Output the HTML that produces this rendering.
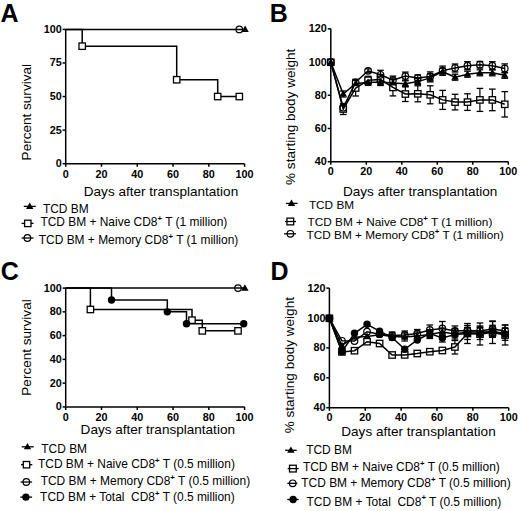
<!DOCTYPE html>
<html><head><meta charset="utf-8"><title>Figure</title>
<style>
html,body{margin:0;padding:0;background:#fff;width:520px;height:511px;overflow:hidden}
svg{display:block}
text{font-family:"Liberation Sans", sans-serif;fill:#000;white-space:pre}
</style></head><body>
<svg width="520" height="511" viewBox="0 0 520 511">
<text x="0.60" y="21.60" font-size="25" font-weight="bold" text-anchor="start" >A</text>
<line x1="65.70" y1="29.40" x2="65.70" y2="163.70" stroke="#000" stroke-width="1.5"/>
<line x1="65.70" y1="163.70" x2="244.60" y2="163.70" stroke="#000" stroke-width="1.5"/>
<line x1="62.60" y1="29.40" x2="65.70" y2="29.40" stroke="#000" stroke-width="1.5"/>
<text x="61.70" y="32.90" font-size="10.8" font-weight="bold" text-anchor="end" >100</text>
<line x1="62.60" y1="62.98" x2="65.70" y2="62.98" stroke="#000" stroke-width="1.5"/>
<text x="61.70" y="66.48" font-size="10.8" font-weight="bold" text-anchor="end" >75</text>
<line x1="62.60" y1="96.55" x2="65.70" y2="96.55" stroke="#000" stroke-width="1.5"/>
<text x="61.70" y="100.05" font-size="10.8" font-weight="bold" text-anchor="end" >50</text>
<line x1="62.60" y1="130.12" x2="65.70" y2="130.12" stroke="#000" stroke-width="1.5"/>
<text x="61.70" y="133.62" font-size="10.8" font-weight="bold" text-anchor="end" >25</text>
<line x1="62.60" y1="163.70" x2="65.70" y2="163.70" stroke="#000" stroke-width="1.5"/>
<text x="61.70" y="167.20" font-size="10.8" font-weight="bold" text-anchor="end" >0</text>
<line x1="65.70" y1="163.70" x2="65.70" y2="166.80" stroke="#000" stroke-width="1.5"/>
<text x="65.70" y="177.60" font-size="10.8" font-weight="bold" text-anchor="middle" >0</text>
<line x1="101.48" y1="163.70" x2="101.48" y2="166.80" stroke="#000" stroke-width="1.5"/>
<text x="101.48" y="177.60" font-size="10.8" font-weight="bold" text-anchor="middle" >20</text>
<line x1="137.26" y1="163.70" x2="137.26" y2="166.80" stroke="#000" stroke-width="1.5"/>
<text x="137.26" y="177.60" font-size="10.8" font-weight="bold" text-anchor="middle" >40</text>
<line x1="173.04" y1="163.70" x2="173.04" y2="166.80" stroke="#000" stroke-width="1.5"/>
<text x="173.04" y="177.60" font-size="10.8" font-weight="bold" text-anchor="middle" >60</text>
<line x1="208.82" y1="163.70" x2="208.82" y2="166.80" stroke="#000" stroke-width="1.5"/>
<text x="208.82" y="177.60" font-size="10.8" font-weight="bold" text-anchor="middle" >80</text>
<line x1="244.60" y1="163.70" x2="244.60" y2="166.80" stroke="#000" stroke-width="1.5"/>
<text x="244.60" y="177.60" font-size="10.8" font-weight="bold" text-anchor="middle" >100</text>
<text x="83.80" y="196.40" font-size="13.55" text-anchor="start" >Days after transplantation</text>
<text x="0" y="0" font-size="13.55" text-anchor="middle" transform="translate(30.60,112.20) rotate(-90)">Percent survival</text>
<line x1="65.70" y1="29.40" x2="245.60" y2="29.40" stroke="#000" stroke-width="1.5"/>
<circle cx="239.30" cy="29.40" r="3.30" fill="none" stroke="#000" stroke-width="1.2"/>
<polygon points="245.10,25.56 248.80,31.96 241.40,31.96" fill="#000"/>
<polyline points="65.70,29.40 82.20,29.40 82.20,46.19 176.70,46.19 176.70,79.76 217.70,79.76 217.70,96.55 239.30,96.55" fill="none" stroke="#000" stroke-width="1.5" stroke-linejoin="miter"/>
<rect x="79.00" y="42.99" width="6.40" height="6.40" fill="#fff" stroke="#000" stroke-width="1.3"/>
<rect x="173.50" y="76.56" width="6.40" height="6.40" fill="#fff" stroke="#000" stroke-width="1.3"/>
<rect x="214.50" y="93.35" width="6.40" height="6.40" fill="#fff" stroke="#000" stroke-width="1.3"/>
<rect x="236.10" y="93.35" width="6.40" height="6.40" fill="#fff" stroke="#000" stroke-width="1.3"/>
<line x1="23.80" y1="206.40" x2="35.80" y2="206.40" stroke="#000" stroke-width="1.3"/>
<polygon points="29.70,202.56 33.40,208.96 26.00,208.96" fill="#000"/>
<text x="42.90" y="213.00" font-size="11.95" text-anchor="start" >TCD BM</text>
<line x1="21.60" y1="223.40" x2="33.50" y2="223.40" stroke="#000" stroke-width="1.3"/>
<rect x="24.60" y="220.20" width="6.40" height="6.40" fill="#fff" stroke="#000" stroke-width="1.3"/>
<text x="40.40" y="225.90" font-size="11.95" text-anchor="start" >TCD BM + Naive CD8<tspan dy="-5.2" font-size="7.8" font-weight="bold">+</tspan><tspan dy="5.2"> </tspan>T (1 million)</text>
<line x1="21.60" y1="238.00" x2="33.50" y2="238.00" stroke="#000" stroke-width="1.3"/>
<circle cx="27.40" cy="238.00" r="3.30" fill="none" stroke="#000" stroke-width="1.2"/>
<text x="38.80" y="244.10" font-size="11.95" text-anchor="start" >TCD BM + Memory CD8<tspan dy="-5.2" font-size="7.8" font-weight="bold">+</tspan><tspan dy="5.2"> </tspan>T (1 million)</text>
<text x="0.80" y="280.20" font-size="25" font-weight="bold" text-anchor="start" >C</text>
<line x1="65.70" y1="288.10" x2="65.70" y2="406.90" stroke="#000" stroke-width="1.5"/>
<line x1="65.70" y1="406.90" x2="244.60" y2="406.90" stroke="#000" stroke-width="1.5"/>
<line x1="62.60" y1="288.10" x2="65.70" y2="288.10" stroke="#000" stroke-width="1.5"/>
<text x="61.70" y="291.60" font-size="10.8" font-weight="bold" text-anchor="end" >100</text>
<line x1="62.60" y1="311.86" x2="65.70" y2="311.86" stroke="#000" stroke-width="1.5"/>
<text x="61.70" y="315.36" font-size="10.8" font-weight="bold" text-anchor="end" >80</text>
<line x1="62.60" y1="335.62" x2="65.70" y2="335.62" stroke="#000" stroke-width="1.5"/>
<text x="61.70" y="339.12" font-size="10.8" font-weight="bold" text-anchor="end" >60</text>
<line x1="62.60" y1="359.38" x2="65.70" y2="359.38" stroke="#000" stroke-width="1.5"/>
<text x="61.70" y="362.88" font-size="10.8" font-weight="bold" text-anchor="end" >40</text>
<line x1="62.60" y1="383.14" x2="65.70" y2="383.14" stroke="#000" stroke-width="1.5"/>
<text x="61.70" y="386.64" font-size="10.8" font-weight="bold" text-anchor="end" >20</text>
<line x1="62.60" y1="406.90" x2="65.70" y2="406.90" stroke="#000" stroke-width="1.5"/>
<text x="61.70" y="410.40" font-size="10.8" font-weight="bold" text-anchor="end" >0</text>
<line x1="65.70" y1="406.90" x2="65.70" y2="410.00" stroke="#000" stroke-width="1.5"/>
<text x="65.70" y="420.60" font-size="10.8" font-weight="bold" text-anchor="middle" >0</text>
<line x1="101.48" y1="406.90" x2="101.48" y2="410.00" stroke="#000" stroke-width="1.5"/>
<text x="101.48" y="420.60" font-size="10.8" font-weight="bold" text-anchor="middle" >20</text>
<line x1="137.26" y1="406.90" x2="137.26" y2="410.00" stroke="#000" stroke-width="1.5"/>
<text x="137.26" y="420.60" font-size="10.8" font-weight="bold" text-anchor="middle" >40</text>
<line x1="173.04" y1="406.90" x2="173.04" y2="410.00" stroke="#000" stroke-width="1.5"/>
<text x="173.04" y="420.60" font-size="10.8" font-weight="bold" text-anchor="middle" >60</text>
<line x1="208.82" y1="406.90" x2="208.82" y2="410.00" stroke="#000" stroke-width="1.5"/>
<text x="208.82" y="420.60" font-size="10.8" font-weight="bold" text-anchor="middle" >80</text>
<line x1="244.60" y1="406.90" x2="244.60" y2="410.00" stroke="#000" stroke-width="1.5"/>
<text x="244.60" y="420.60" font-size="10.8" font-weight="bold" text-anchor="middle" >100</text>
<text x="80.60" y="434.20" font-size="13.55" text-anchor="start" >Days after transplantation</text>
<text x="0" y="0" font-size="13.55" text-anchor="middle" transform="translate(30.60,347.50) rotate(-90)">Percent survival</text>
<line x1="65.70" y1="288.10" x2="245.60" y2="288.10" stroke="#000" stroke-width="1.5"/>
<circle cx="238.00" cy="288.10" r="3.30" fill="none" stroke="#000" stroke-width="1.2"/>
<polygon points="244.90,284.26 248.60,290.66 241.20,290.66" fill="#000"/>
<polyline points="65.70,288.10 90.40,288.10 90.40,309.48 192.00,309.48 192.00,320.18 202.30,320.18 202.30,330.87 238.00,330.87" fill="none" stroke="#000" stroke-width="1.5" stroke-linejoin="miter"/>
<polyline points="65.70,288.10 111.50,288.10 111.50,299.98 167.30,299.98 167.30,311.86 186.50,311.86 186.50,323.74 243.70,323.74" fill="none" stroke="#000" stroke-width="1.5" stroke-linejoin="miter"/>
<rect x="87.20" y="306.28" width="6.40" height="6.40" fill="#fff" stroke="#000" stroke-width="1.3"/>
<rect x="188.80" y="316.98" width="6.40" height="6.40" fill="#fff" stroke="#000" stroke-width="1.3"/>
<rect x="199.10" y="327.67" width="6.40" height="6.40" fill="#fff" stroke="#000" stroke-width="1.3"/>
<rect x="234.80" y="327.67" width="6.40" height="6.40" fill="#fff" stroke="#000" stroke-width="1.3"/>
<circle cx="111.50" cy="299.98" r="3.70" fill="#000"/>
<circle cx="167.30" cy="311.86" r="3.70" fill="#000"/>
<circle cx="186.50" cy="323.74" r="3.70" fill="#000"/>
<circle cx="243.70" cy="323.74" r="3.70" fill="#000"/>
<line x1="21.70" y1="446.80" x2="33.70" y2="446.80" stroke="#000" stroke-width="1.3"/>
<polygon points="27.50,442.96 31.20,449.36 23.80,449.36" fill="#000"/>
<text x="41.30" y="452.50" font-size="11.95" text-anchor="start" >TCD BM</text>
<line x1="21.00" y1="464.70" x2="32.30" y2="464.70" stroke="#000" stroke-width="1.3"/>
<rect x="23.30" y="461.50" width="6.40" height="6.40" fill="#fff" stroke="#000" stroke-width="1.3"/>
<text x="38.00" y="468.00" font-size="11.95" text-anchor="start" >TCD BM + Naive CD8<tspan dy="-5.2" font-size="7.8" font-weight="bold">+</tspan><tspan dy="5.2"> </tspan>T (0.5 million)</text>
<line x1="20.60" y1="482.00" x2="32.10" y2="482.00" stroke="#000" stroke-width="1.3"/>
<circle cx="26.30" cy="482.00" r="3.30" fill="none" stroke="#000" stroke-width="1.2"/>
<text x="40.70" y="484.80" font-size="11.95" text-anchor="start" >TCD BM + Memory CD8<tspan dy="-5.2" font-size="7.8" font-weight="bold">+</tspan><tspan dy="5.2"> </tspan>T (0.5 million)</text>
<line x1="20.30" y1="497.10" x2="32.10" y2="497.10" stroke="#000" stroke-width="1.3"/>
<circle cx="25.90" cy="497.10" r="3.70" fill="#000"/>
<text x="40.10" y="501.30" font-size="11.95" text-anchor="start" >TCD BM + Total  CD8<tspan dy="-5.2" font-size="7.8" font-weight="bold">+</tspan><tspan dy="5.2"> </tspan>T (0.5 million)</text>
<text x="269.80" y="21.60" font-size="25" font-weight="bold" text-anchor="start" >B</text>
<line x1="330.80" y1="28.80" x2="330.80" y2="161.70" stroke="#000" stroke-width="1.5"/>
<line x1="330.80" y1="161.70" x2="508.30" y2="161.70" stroke="#000" stroke-width="1.5"/>
<line x1="327.70" y1="28.80" x2="330.80" y2="28.80" stroke="#000" stroke-width="1.5"/>
<text x="326.80" y="32.30" font-size="10.8" font-weight="bold" text-anchor="end" >120</text>
<line x1="327.70" y1="62.03" x2="330.80" y2="62.03" stroke="#000" stroke-width="1.5"/>
<text x="326.80" y="65.53" font-size="10.8" font-weight="bold" text-anchor="end" >100</text>
<line x1="327.70" y1="95.25" x2="330.80" y2="95.25" stroke="#000" stroke-width="1.5"/>
<text x="326.80" y="98.75" font-size="10.8" font-weight="bold" text-anchor="end" >80</text>
<line x1="327.70" y1="128.47" x2="330.80" y2="128.47" stroke="#000" stroke-width="1.5"/>
<text x="326.80" y="131.97" font-size="10.8" font-weight="bold" text-anchor="end" >60</text>
<line x1="327.70" y1="161.70" x2="330.80" y2="161.70" stroke="#000" stroke-width="1.5"/>
<text x="326.80" y="165.20" font-size="10.8" font-weight="bold" text-anchor="end" >40</text>
<line x1="330.80" y1="161.70" x2="330.80" y2="164.80" stroke="#000" stroke-width="1.5"/>
<text x="330.80" y="175.00" font-size="10.8" font-weight="bold" text-anchor="middle" >0</text>
<line x1="366.30" y1="161.70" x2="366.30" y2="164.80" stroke="#000" stroke-width="1.5"/>
<text x="366.30" y="175.00" font-size="10.8" font-weight="bold" text-anchor="middle" >20</text>
<line x1="401.80" y1="161.70" x2="401.80" y2="164.80" stroke="#000" stroke-width="1.5"/>
<text x="401.80" y="175.00" font-size="10.8" font-weight="bold" text-anchor="middle" >40</text>
<line x1="437.30" y1="161.70" x2="437.30" y2="164.80" stroke="#000" stroke-width="1.5"/>
<text x="437.30" y="175.00" font-size="10.8" font-weight="bold" text-anchor="middle" >60</text>
<line x1="472.80" y1="161.70" x2="472.80" y2="164.80" stroke="#000" stroke-width="1.5"/>
<text x="472.80" y="175.00" font-size="10.8" font-weight="bold" text-anchor="middle" >80</text>
<line x1="508.30" y1="161.70" x2="508.30" y2="164.80" stroke="#000" stroke-width="1.5"/>
<text x="508.30" y="175.00" font-size="10.8" font-weight="bold" text-anchor="middle" >100</text>
<text x="343.00" y="195.80" font-size="13.55" text-anchor="start" >Days after transplantation</text>
<text x="0" y="0" font-size="13.55" text-anchor="middle" transform="translate(294.70,116.80) rotate(-90)">% starting body weight</text>
<line x1="343.23" y1="103.50" x2="343.23" y2="114.50" stroke="#000" stroke-width="1.2"/>
<line x1="339.93" y1="103.50" x2="346.53" y2="103.50" stroke="#000" stroke-width="1.3"/>
<line x1="339.93" y1="114.50" x2="346.53" y2="114.50" stroke="#000" stroke-width="1.3"/>
<line x1="355.65" y1="80.00" x2="355.65" y2="96.00" stroke="#000" stroke-width="1.2"/>
<line x1="352.35" y1="80.00" x2="358.95" y2="80.00" stroke="#000" stroke-width="1.3"/>
<line x1="352.35" y1="96.00" x2="358.95" y2="96.00" stroke="#000" stroke-width="1.3"/>
<line x1="368.07" y1="76.30" x2="368.07" y2="84.30" stroke="#000" stroke-width="1.2"/>
<line x1="364.77" y1="76.30" x2="371.38" y2="76.30" stroke="#000" stroke-width="1.3"/>
<line x1="364.77" y1="84.30" x2="371.38" y2="84.30" stroke="#000" stroke-width="1.3"/>
<line x1="380.50" y1="74.50" x2="380.50" y2="84.50" stroke="#000" stroke-width="1.2"/>
<line x1="377.20" y1="74.50" x2="383.80" y2="74.50" stroke="#000" stroke-width="1.3"/>
<line x1="377.20" y1="84.50" x2="383.80" y2="84.50" stroke="#000" stroke-width="1.3"/>
<line x1="392.93" y1="78.90" x2="392.93" y2="95.90" stroke="#000" stroke-width="1.2"/>
<line x1="389.62" y1="78.90" x2="396.23" y2="78.90" stroke="#000" stroke-width="1.3"/>
<line x1="389.62" y1="95.90" x2="396.23" y2="95.90" stroke="#000" stroke-width="1.3"/>
<line x1="405.35" y1="86.50" x2="405.35" y2="101.50" stroke="#000" stroke-width="1.2"/>
<line x1="402.05" y1="86.50" x2="408.65" y2="86.50" stroke="#000" stroke-width="1.3"/>
<line x1="402.05" y1="101.50" x2="408.65" y2="101.50" stroke="#000" stroke-width="1.3"/>
<line x1="417.77" y1="85.80" x2="417.77" y2="101.80" stroke="#000" stroke-width="1.2"/>
<line x1="414.47" y1="85.80" x2="421.07" y2="85.80" stroke="#000" stroke-width="1.3"/>
<line x1="414.47" y1="101.80" x2="421.07" y2="101.80" stroke="#000" stroke-width="1.3"/>
<line x1="430.20" y1="85.80" x2="430.20" y2="103.80" stroke="#000" stroke-width="1.2"/>
<line x1="426.90" y1="85.80" x2="433.50" y2="85.80" stroke="#000" stroke-width="1.3"/>
<line x1="426.90" y1="103.80" x2="433.50" y2="103.80" stroke="#000" stroke-width="1.3"/>
<line x1="442.62" y1="90.40" x2="442.62" y2="109.40" stroke="#000" stroke-width="1.2"/>
<line x1="439.32" y1="90.40" x2="445.93" y2="90.40" stroke="#000" stroke-width="1.3"/>
<line x1="439.32" y1="109.40" x2="445.93" y2="109.40" stroke="#000" stroke-width="1.3"/>
<line x1="455.05" y1="94.30" x2="455.05" y2="109.90" stroke="#000" stroke-width="1.2"/>
<line x1="451.75" y1="94.30" x2="458.35" y2="94.30" stroke="#000" stroke-width="1.3"/>
<line x1="451.75" y1="109.90" x2="458.35" y2="109.90" stroke="#000" stroke-width="1.3"/>
<line x1="467.48" y1="93.80" x2="467.48" y2="110.40" stroke="#000" stroke-width="1.2"/>
<line x1="464.18" y1="93.80" x2="470.78" y2="93.80" stroke="#000" stroke-width="1.3"/>
<line x1="464.18" y1="110.40" x2="470.78" y2="110.40" stroke="#000" stroke-width="1.3"/>
<line x1="479.90" y1="88.40" x2="479.90" y2="111.40" stroke="#000" stroke-width="1.2"/>
<line x1="476.60" y1="88.40" x2="483.20" y2="88.40" stroke="#000" stroke-width="1.3"/>
<line x1="476.60" y1="111.40" x2="483.20" y2="111.40" stroke="#000" stroke-width="1.3"/>
<line x1="492.33" y1="89.10" x2="492.33" y2="110.70" stroke="#000" stroke-width="1.2"/>
<line x1="489.03" y1="89.10" x2="495.63" y2="89.10" stroke="#000" stroke-width="1.3"/>
<line x1="489.03" y1="110.70" x2="495.63" y2="110.70" stroke="#000" stroke-width="1.3"/>
<line x1="504.75" y1="91.60" x2="504.75" y2="117.00" stroke="#000" stroke-width="1.2"/>
<line x1="501.45" y1="91.60" x2="508.05" y2="91.60" stroke="#000" stroke-width="1.3"/>
<line x1="501.45" y1="117.00" x2="508.05" y2="117.00" stroke="#000" stroke-width="1.3"/>
<line x1="343.23" y1="104.70" x2="343.23" y2="110.70" stroke="#000" stroke-width="1.2"/>
<line x1="339.93" y1="104.70" x2="346.53" y2="104.70" stroke="#000" stroke-width="1.3"/>
<line x1="339.93" y1="110.70" x2="346.53" y2="110.70" stroke="#000" stroke-width="1.3"/>
<line x1="355.65" y1="79.30" x2="355.65" y2="85.30" stroke="#000" stroke-width="1.2"/>
<line x1="352.35" y1="79.30" x2="358.95" y2="79.30" stroke="#000" stroke-width="1.3"/>
<line x1="352.35" y1="85.30" x2="358.95" y2="85.30" stroke="#000" stroke-width="1.3"/>
<line x1="368.07" y1="68.80" x2="368.07" y2="72.80" stroke="#000" stroke-width="1.2"/>
<line x1="364.77" y1="68.80" x2="371.38" y2="68.80" stroke="#000" stroke-width="1.3"/>
<line x1="364.77" y1="72.80" x2="371.38" y2="72.80" stroke="#000" stroke-width="1.3"/>
<line x1="380.50" y1="70.30" x2="380.50" y2="79.30" stroke="#000" stroke-width="1.2"/>
<line x1="377.20" y1="70.30" x2="383.80" y2="70.30" stroke="#000" stroke-width="1.3"/>
<line x1="377.20" y1="79.30" x2="383.80" y2="79.30" stroke="#000" stroke-width="1.3"/>
<line x1="392.93" y1="76.10" x2="392.93" y2="84.10" stroke="#000" stroke-width="1.2"/>
<line x1="389.62" y1="76.10" x2="396.23" y2="76.10" stroke="#000" stroke-width="1.3"/>
<line x1="389.62" y1="84.10" x2="396.23" y2="84.10" stroke="#000" stroke-width="1.3"/>
<line x1="405.35" y1="72.10" x2="405.35" y2="80.10" stroke="#000" stroke-width="1.2"/>
<line x1="402.05" y1="72.10" x2="408.65" y2="72.10" stroke="#000" stroke-width="1.3"/>
<line x1="402.05" y1="80.10" x2="408.65" y2="80.10" stroke="#000" stroke-width="1.3"/>
<line x1="417.77" y1="74.90" x2="417.77" y2="80.90" stroke="#000" stroke-width="1.2"/>
<line x1="414.47" y1="74.90" x2="421.07" y2="74.90" stroke="#000" stroke-width="1.3"/>
<line x1="414.47" y1="80.90" x2="421.07" y2="80.90" stroke="#000" stroke-width="1.3"/>
<line x1="430.20" y1="71.90" x2="430.20" y2="80.90" stroke="#000" stroke-width="1.2"/>
<line x1="426.90" y1="71.90" x2="433.50" y2="71.90" stroke="#000" stroke-width="1.3"/>
<line x1="426.90" y1="80.90" x2="433.50" y2="80.90" stroke="#000" stroke-width="1.3"/>
<line x1="442.62" y1="66.10" x2="442.62" y2="75.10" stroke="#000" stroke-width="1.2"/>
<line x1="439.32" y1="66.10" x2="445.93" y2="66.10" stroke="#000" stroke-width="1.3"/>
<line x1="439.32" y1="75.10" x2="445.93" y2="75.10" stroke="#000" stroke-width="1.3"/>
<line x1="455.05" y1="64.00" x2="455.05" y2="72.00" stroke="#000" stroke-width="1.2"/>
<line x1="451.75" y1="64.00" x2="458.35" y2="64.00" stroke="#000" stroke-width="1.3"/>
<line x1="451.75" y1="72.00" x2="458.35" y2="72.00" stroke="#000" stroke-width="1.3"/>
<line x1="467.48" y1="61.70" x2="467.48" y2="69.70" stroke="#000" stroke-width="1.2"/>
<line x1="464.18" y1="61.70" x2="470.78" y2="61.70" stroke="#000" stroke-width="1.3"/>
<line x1="464.18" y1="69.70" x2="470.78" y2="69.70" stroke="#000" stroke-width="1.3"/>
<line x1="479.90" y1="61.40" x2="479.90" y2="68.00" stroke="#000" stroke-width="1.2"/>
<line x1="476.60" y1="61.40" x2="483.20" y2="61.40" stroke="#000" stroke-width="1.3"/>
<line x1="476.60" y1="68.00" x2="483.20" y2="68.00" stroke="#000" stroke-width="1.3"/>
<line x1="492.33" y1="61.70" x2="492.33" y2="69.70" stroke="#000" stroke-width="1.2"/>
<line x1="489.03" y1="61.70" x2="495.63" y2="61.70" stroke="#000" stroke-width="1.3"/>
<line x1="489.03" y1="69.70" x2="495.63" y2="69.70" stroke="#000" stroke-width="1.3"/>
<line x1="504.75" y1="63.90" x2="504.75" y2="72.90" stroke="#000" stroke-width="1.2"/>
<line x1="501.45" y1="63.90" x2="508.05" y2="63.90" stroke="#000" stroke-width="1.3"/>
<line x1="501.45" y1="72.90" x2="508.05" y2="72.90" stroke="#000" stroke-width="1.3"/>
<line x1="343.23" y1="91.00" x2="343.23" y2="97.00" stroke="#000" stroke-width="1.2"/>
<line x1="339.93" y1="91.00" x2="346.53" y2="91.00" stroke="#000" stroke-width="1.3"/>
<line x1="339.93" y1="97.00" x2="346.53" y2="97.00" stroke="#000" stroke-width="1.3"/>
<line x1="355.65" y1="80.50" x2="355.65" y2="86.50" stroke="#000" stroke-width="1.2"/>
<line x1="352.35" y1="80.50" x2="358.95" y2="80.50" stroke="#000" stroke-width="1.3"/>
<line x1="352.35" y1="86.50" x2="358.95" y2="86.50" stroke="#000" stroke-width="1.3"/>
<line x1="368.07" y1="79.40" x2="368.07" y2="85.40" stroke="#000" stroke-width="1.2"/>
<line x1="364.77" y1="79.40" x2="371.38" y2="79.40" stroke="#000" stroke-width="1.3"/>
<line x1="364.77" y1="85.40" x2="371.38" y2="85.40" stroke="#000" stroke-width="1.3"/>
<line x1="380.50" y1="78.50" x2="380.50" y2="85.50" stroke="#000" stroke-width="1.2"/>
<line x1="377.20" y1="78.50" x2="383.80" y2="78.50" stroke="#000" stroke-width="1.3"/>
<line x1="377.20" y1="85.50" x2="383.80" y2="85.50" stroke="#000" stroke-width="1.3"/>
<line x1="392.93" y1="79.50" x2="392.93" y2="86.50" stroke="#000" stroke-width="1.2"/>
<line x1="389.62" y1="79.50" x2="396.23" y2="79.50" stroke="#000" stroke-width="1.3"/>
<line x1="389.62" y1="86.50" x2="396.23" y2="86.50" stroke="#000" stroke-width="1.3"/>
<line x1="405.35" y1="80.80" x2="405.35" y2="86.80" stroke="#000" stroke-width="1.2"/>
<line x1="402.05" y1="80.80" x2="408.65" y2="80.80" stroke="#000" stroke-width="1.3"/>
<line x1="402.05" y1="86.80" x2="408.65" y2="86.80" stroke="#000" stroke-width="1.3"/>
<line x1="417.77" y1="78.60" x2="417.77" y2="84.60" stroke="#000" stroke-width="1.2"/>
<line x1="414.47" y1="78.60" x2="421.07" y2="78.60" stroke="#000" stroke-width="1.3"/>
<line x1="414.47" y1="84.60" x2="421.07" y2="84.60" stroke="#000" stroke-width="1.3"/>
<line x1="430.20" y1="73.90" x2="430.20" y2="81.90" stroke="#000" stroke-width="1.2"/>
<line x1="426.90" y1="73.90" x2="433.50" y2="73.90" stroke="#000" stroke-width="1.3"/>
<line x1="426.90" y1="81.90" x2="433.50" y2="81.90" stroke="#000" stroke-width="1.3"/>
<line x1="442.62" y1="68.20" x2="442.62" y2="75.20" stroke="#000" stroke-width="1.2"/>
<line x1="439.32" y1="68.20" x2="445.93" y2="68.20" stroke="#000" stroke-width="1.3"/>
<line x1="439.32" y1="75.20" x2="445.93" y2="75.20" stroke="#000" stroke-width="1.3"/>
<line x1="455.05" y1="74.20" x2="455.05" y2="80.20" stroke="#000" stroke-width="1.2"/>
<line x1="451.75" y1="74.20" x2="458.35" y2="74.20" stroke="#000" stroke-width="1.3"/>
<line x1="451.75" y1="80.20" x2="458.35" y2="80.20" stroke="#000" stroke-width="1.3"/>
<line x1="467.48" y1="71.20" x2="467.48" y2="77.20" stroke="#000" stroke-width="1.2"/>
<line x1="464.18" y1="71.20" x2="470.78" y2="71.20" stroke="#000" stroke-width="1.3"/>
<line x1="464.18" y1="77.20" x2="470.78" y2="77.20" stroke="#000" stroke-width="1.3"/>
<line x1="479.90" y1="69.80" x2="479.90" y2="75.80" stroke="#000" stroke-width="1.2"/>
<line x1="476.60" y1="69.80" x2="483.20" y2="69.80" stroke="#000" stroke-width="1.3"/>
<line x1="476.60" y1="75.80" x2="483.20" y2="75.80" stroke="#000" stroke-width="1.3"/>
<line x1="492.33" y1="69.80" x2="492.33" y2="75.80" stroke="#000" stroke-width="1.2"/>
<line x1="489.03" y1="69.80" x2="495.63" y2="69.80" stroke="#000" stroke-width="1.3"/>
<line x1="489.03" y1="75.80" x2="495.63" y2="75.80" stroke="#000" stroke-width="1.3"/>
<line x1="504.75" y1="72.30" x2="504.75" y2="78.30" stroke="#000" stroke-width="1.2"/>
<line x1="501.45" y1="72.30" x2="508.05" y2="72.30" stroke="#000" stroke-width="1.3"/>
<line x1="501.45" y1="78.30" x2="508.05" y2="78.30" stroke="#000" stroke-width="1.3"/>
<rect x="327.60" y="59.00" width="6.40" height="6.40" fill="#fff"/>
<rect x="340.03" y="105.80" width="6.40" height="6.40" fill="#fff"/>
<rect x="352.45" y="84.80" width="6.40" height="6.40" fill="#fff"/>
<rect x="364.88" y="77.10" width="6.40" height="6.40" fill="#fff"/>
<rect x="377.30" y="76.30" width="6.40" height="6.40" fill="#fff"/>
<rect x="389.73" y="84.20" width="6.40" height="6.40" fill="#fff"/>
<rect x="402.15" y="90.80" width="6.40" height="6.40" fill="#fff"/>
<rect x="414.57" y="90.60" width="6.40" height="6.40" fill="#fff"/>
<rect x="427.00" y="91.60" width="6.40" height="6.40" fill="#fff"/>
<rect x="439.43" y="96.70" width="6.40" height="6.40" fill="#fff"/>
<rect x="451.85" y="98.90" width="6.40" height="6.40" fill="#fff"/>
<rect x="464.28" y="98.90" width="6.40" height="6.40" fill="#fff"/>
<rect x="476.70" y="96.70" width="6.40" height="6.40" fill="#fff"/>
<rect x="489.13" y="96.70" width="6.40" height="6.40" fill="#fff"/>
<rect x="501.55" y="101.10" width="6.40" height="6.40" fill="#fff"/>
<polyline points="330.80,62.20 343.23,109.00 355.65,88.00 368.07,80.30 380.50,79.50 392.93,87.40 405.35,94.00 417.77,93.80 430.20,94.80 442.62,99.90 455.05,102.10 467.48,102.10 479.90,99.90 492.33,99.90 504.75,104.30" fill="none" stroke="#000" stroke-width="1.5" stroke-linejoin="miter"/>
<polyline points="330.80,62.20 343.23,107.70 355.65,82.30 368.07,70.80 380.50,74.80 392.93,80.10 405.35,76.10 417.77,77.90 430.20,76.40 442.62,70.60 455.05,68.00 467.48,65.70 479.90,64.70 492.33,65.70 504.75,68.40" fill="none" stroke="#000" stroke-width="1.5" stroke-linejoin="miter"/>
<polyline points="330.80,62.20 343.23,94.00 355.65,83.50 368.07,82.40 380.50,82.00 392.93,83.00 405.35,83.80 417.77,81.60 430.20,77.90 442.62,71.70 455.05,77.20 467.48,74.20 479.90,72.80 492.33,72.80 504.75,75.30" fill="none" stroke="#000" stroke-width="1.5" stroke-linejoin="miter"/>
<rect x="327.60" y="59.00" width="6.40" height="6.40" fill="none" stroke="#000" stroke-width="1.3"/>
<rect x="340.03" y="105.80" width="6.40" height="6.40" fill="none" stroke="#000" stroke-width="1.3"/>
<rect x="352.45" y="84.80" width="6.40" height="6.40" fill="none" stroke="#000" stroke-width="1.3"/>
<rect x="364.88" y="77.10" width="6.40" height="6.40" fill="none" stroke="#000" stroke-width="1.3"/>
<rect x="377.30" y="76.30" width="6.40" height="6.40" fill="none" stroke="#000" stroke-width="1.3"/>
<rect x="389.73" y="84.20" width="6.40" height="6.40" fill="none" stroke="#000" stroke-width="1.3"/>
<rect x="402.15" y="90.80" width="6.40" height="6.40" fill="none" stroke="#000" stroke-width="1.3"/>
<rect x="414.57" y="90.60" width="6.40" height="6.40" fill="none" stroke="#000" stroke-width="1.3"/>
<rect x="427.00" y="91.60" width="6.40" height="6.40" fill="none" stroke="#000" stroke-width="1.3"/>
<rect x="439.43" y="96.70" width="6.40" height="6.40" fill="none" stroke="#000" stroke-width="1.3"/>
<rect x="451.85" y="98.90" width="6.40" height="6.40" fill="none" stroke="#000" stroke-width="1.3"/>
<rect x="464.28" y="98.90" width="6.40" height="6.40" fill="none" stroke="#000" stroke-width="1.3"/>
<rect x="476.70" y="96.70" width="6.40" height="6.40" fill="none" stroke="#000" stroke-width="1.3"/>
<rect x="489.13" y="96.70" width="6.40" height="6.40" fill="none" stroke="#000" stroke-width="1.3"/>
<rect x="501.55" y="101.10" width="6.40" height="6.40" fill="none" stroke="#000" stroke-width="1.3"/>
<circle cx="330.80" cy="62.20" r="3.30" fill="none" stroke="#000" stroke-width="1.2"/>
<circle cx="343.23" cy="107.70" r="3.30" fill="none" stroke="#000" stroke-width="1.2"/>
<circle cx="355.65" cy="82.30" r="3.30" fill="none" stroke="#000" stroke-width="1.2"/>
<circle cx="368.07" cy="70.80" r="3.30" fill="none" stroke="#000" stroke-width="1.2"/>
<circle cx="380.50" cy="74.80" r="3.30" fill="none" stroke="#000" stroke-width="1.2"/>
<circle cx="392.93" cy="80.10" r="3.30" fill="none" stroke="#000" stroke-width="1.2"/>
<circle cx="405.35" cy="76.10" r="3.30" fill="none" stroke="#000" stroke-width="1.2"/>
<circle cx="417.77" cy="77.90" r="3.30" fill="none" stroke="#000" stroke-width="1.2"/>
<circle cx="430.20" cy="76.40" r="3.30" fill="none" stroke="#000" stroke-width="1.2"/>
<circle cx="442.62" cy="70.60" r="3.30" fill="none" stroke="#000" stroke-width="1.2"/>
<circle cx="455.05" cy="68.00" r="3.30" fill="none" stroke="#000" stroke-width="1.2"/>
<circle cx="467.48" cy="65.70" r="3.30" fill="none" stroke="#000" stroke-width="1.2"/>
<circle cx="479.90" cy="64.70" r="3.30" fill="none" stroke="#000" stroke-width="1.2"/>
<circle cx="492.33" cy="65.70" r="3.30" fill="none" stroke="#000" stroke-width="1.2"/>
<circle cx="504.75" cy="68.40" r="3.30" fill="none" stroke="#000" stroke-width="1.2"/>
<polygon points="330.80,58.36 334.50,64.76 327.10,64.76" fill="#000"/>
<polygon points="343.23,90.16 346.93,96.56 339.53,96.56" fill="#000"/>
<polygon points="355.65,79.66 359.35,86.06 351.95,86.06" fill="#000"/>
<polygon points="368.07,78.56 371.77,84.96 364.38,84.96" fill="#000"/>
<polygon points="380.50,78.16 384.20,84.56 376.80,84.56" fill="#000"/>
<polygon points="392.93,79.16 396.62,85.56 389.23,85.56" fill="#000"/>
<polygon points="405.35,79.96 409.05,86.36 401.65,86.36" fill="#000"/>
<polygon points="417.77,77.76 421.47,84.16 414.07,84.16" fill="#000"/>
<polygon points="430.20,74.06 433.90,80.46 426.50,80.46" fill="#000"/>
<polygon points="442.62,67.86 446.32,74.26 438.93,74.26" fill="#000"/>
<polygon points="455.05,73.36 458.75,79.76 451.35,79.76" fill="#000"/>
<polygon points="467.48,70.36 471.18,76.76 463.78,76.76" fill="#000"/>
<polygon points="479.90,68.96 483.60,75.36 476.20,75.36" fill="#000"/>
<polygon points="492.33,68.96 496.03,75.36 488.63,75.36" fill="#000"/>
<polygon points="504.75,71.46 508.45,77.86 501.05,77.86" fill="#000"/>
<line x1="285.90" y1="203.40" x2="297.60" y2="203.40" stroke="#000" stroke-width="1.3"/>
<polygon points="291.50,199.56 295.20,205.96 287.80,205.96" fill="#000"/>
<text x="308.90" y="208.60" font-size="11.8" text-anchor="start" >TCD BM</text>
<rect x="286.94" y="218.14" width="6.72" height="6.72" fill="#fff" stroke="#000" stroke-width="1.3"/>
<line x1="285.00" y1="221.50" x2="296.00" y2="221.50" stroke="#000" stroke-width="1.3"/>
<text x="307.60" y="226.00" font-size="11.8" text-anchor="start" >TCD BM + Naive CD8<tspan dy="-5.2" font-size="7.8" font-weight="bold">+</tspan><tspan dy="5.2"> </tspan>T (1 million)</text>
<circle cx="290.40" cy="233.80" r="3.30" fill="none" stroke="#000" stroke-width="1.2"/>
<line x1="284.00" y1="233.80" x2="296.00" y2="233.80" stroke="#000" stroke-width="1.3"/>
<text x="306.60" y="238.80" font-size="11.8" text-anchor="start" >TCD BM + Memory CD8<tspan dy="-5.2" font-size="7.8" font-weight="bold">+</tspan><tspan dy="5.2"> </tspan>T (1 million)</text>
<text x="270.60" y="280.20" font-size="25" font-weight="bold" text-anchor="start" >D</text>
<line x1="329.40" y1="288.10" x2="329.40" y2="407.70" stroke="#000" stroke-width="1.5"/>
<line x1="329.40" y1="407.70" x2="508.70" y2="407.70" stroke="#000" stroke-width="1.5"/>
<line x1="326.30" y1="288.10" x2="329.40" y2="288.10" stroke="#000" stroke-width="1.5"/>
<text x="325.40" y="291.60" font-size="10.8" font-weight="bold" text-anchor="end" >120</text>
<line x1="326.30" y1="318.00" x2="329.40" y2="318.00" stroke="#000" stroke-width="1.5"/>
<text x="325.40" y="321.50" font-size="10.8" font-weight="bold" text-anchor="end" >100</text>
<line x1="326.30" y1="347.90" x2="329.40" y2="347.90" stroke="#000" stroke-width="1.5"/>
<text x="325.40" y="351.40" font-size="10.8" font-weight="bold" text-anchor="end" >80</text>
<line x1="326.30" y1="377.80" x2="329.40" y2="377.80" stroke="#000" stroke-width="1.5"/>
<text x="325.40" y="381.30" font-size="10.8" font-weight="bold" text-anchor="end" >60</text>
<line x1="326.30" y1="407.70" x2="329.40" y2="407.70" stroke="#000" stroke-width="1.5"/>
<text x="325.40" y="411.20" font-size="10.8" font-weight="bold" text-anchor="end" >40</text>
<line x1="329.40" y1="407.70" x2="329.40" y2="410.80" stroke="#000" stroke-width="1.5"/>
<text x="329.40" y="421.00" font-size="10.8" font-weight="bold" text-anchor="middle" >0</text>
<line x1="365.26" y1="407.70" x2="365.26" y2="410.80" stroke="#000" stroke-width="1.5"/>
<text x="365.26" y="421.00" font-size="10.8" font-weight="bold" text-anchor="middle" >20</text>
<line x1="401.12" y1="407.70" x2="401.12" y2="410.80" stroke="#000" stroke-width="1.5"/>
<text x="401.12" y="421.00" font-size="10.8" font-weight="bold" text-anchor="middle" >40</text>
<line x1="436.98" y1="407.70" x2="436.98" y2="410.80" stroke="#000" stroke-width="1.5"/>
<text x="436.98" y="421.00" font-size="10.8" font-weight="bold" text-anchor="middle" >60</text>
<line x1="472.84" y1="407.70" x2="472.84" y2="410.80" stroke="#000" stroke-width="1.5"/>
<text x="472.84" y="421.00" font-size="10.8" font-weight="bold" text-anchor="middle" >80</text>
<line x1="508.70" y1="407.70" x2="508.70" y2="410.80" stroke="#000" stroke-width="1.5"/>
<text x="508.70" y="421.00" font-size="10.8" font-weight="bold" text-anchor="middle" >100</text>
<text x="341.30" y="436.20" font-size="13.55" text-anchor="start" >Days after transplantation</text>
<text x="0" y="0" font-size="13.55" text-anchor="middle" transform="translate(293.90,365.20) rotate(-90)">% starting body weight</text>
<line x1="454.91" y1="340.00" x2="454.91" y2="354.00" stroke="#000" stroke-width="1.2"/>
<line x1="451.61" y1="340.00" x2="458.21" y2="340.00" stroke="#000" stroke-width="1.3"/>
<line x1="451.61" y1="354.00" x2="458.21" y2="354.00" stroke="#000" stroke-width="1.3"/>
<line x1="467.46" y1="323.50" x2="467.46" y2="343.50" stroke="#000" stroke-width="1.2"/>
<line x1="464.16" y1="323.50" x2="470.76" y2="323.50" stroke="#000" stroke-width="1.3"/>
<line x1="464.16" y1="343.50" x2="470.76" y2="343.50" stroke="#000" stroke-width="1.3"/>
<line x1="480.01" y1="323.00" x2="480.01" y2="345.00" stroke="#000" stroke-width="1.2"/>
<line x1="476.71" y1="323.00" x2="483.31" y2="323.00" stroke="#000" stroke-width="1.3"/>
<line x1="476.71" y1="345.00" x2="483.31" y2="345.00" stroke="#000" stroke-width="1.3"/>
<line x1="492.56" y1="321.50" x2="492.56" y2="343.50" stroke="#000" stroke-width="1.2"/>
<line x1="489.26" y1="321.50" x2="495.86" y2="321.50" stroke="#000" stroke-width="1.3"/>
<line x1="489.26" y1="343.50" x2="495.86" y2="343.50" stroke="#000" stroke-width="1.3"/>
<line x1="505.11" y1="325.00" x2="505.11" y2="345.00" stroke="#000" stroke-width="1.2"/>
<line x1="501.81" y1="325.00" x2="508.41" y2="325.00" stroke="#000" stroke-width="1.3"/>
<line x1="501.81" y1="345.00" x2="508.41" y2="345.00" stroke="#000" stroke-width="1.3"/>
<line x1="392.15" y1="332.00" x2="392.15" y2="339.00" stroke="#000" stroke-width="1.2"/>
<line x1="388.85" y1="332.00" x2="395.45" y2="332.00" stroke="#000" stroke-width="1.3"/>
<line x1="388.85" y1="339.00" x2="395.45" y2="339.00" stroke="#000" stroke-width="1.3"/>
<line x1="404.71" y1="331.00" x2="404.71" y2="339.00" stroke="#000" stroke-width="1.2"/>
<line x1="401.41" y1="331.00" x2="408.01" y2="331.00" stroke="#000" stroke-width="1.3"/>
<line x1="401.41" y1="339.00" x2="408.01" y2="339.00" stroke="#000" stroke-width="1.3"/>
<line x1="417.26" y1="329.50" x2="417.26" y2="337.50" stroke="#000" stroke-width="1.2"/>
<line x1="413.96" y1="329.50" x2="420.56" y2="329.50" stroke="#000" stroke-width="1.3"/>
<line x1="413.96" y1="337.50" x2="420.56" y2="337.50" stroke="#000" stroke-width="1.3"/>
<line x1="429.81" y1="325.00" x2="429.81" y2="335.00" stroke="#000" stroke-width="1.2"/>
<line x1="426.51" y1="325.00" x2="433.11" y2="325.00" stroke="#000" stroke-width="1.3"/>
<line x1="426.51" y1="335.00" x2="433.11" y2="335.00" stroke="#000" stroke-width="1.3"/>
<line x1="442.36" y1="321.50" x2="442.36" y2="335.50" stroke="#000" stroke-width="1.2"/>
<line x1="439.06" y1="321.50" x2="445.66" y2="321.50" stroke="#000" stroke-width="1.3"/>
<line x1="439.06" y1="335.50" x2="445.66" y2="335.50" stroke="#000" stroke-width="1.3"/>
<line x1="454.91" y1="326.00" x2="454.91" y2="336.00" stroke="#000" stroke-width="1.2"/>
<line x1="451.61" y1="326.00" x2="458.21" y2="326.00" stroke="#000" stroke-width="1.3"/>
<line x1="451.61" y1="336.00" x2="458.21" y2="336.00" stroke="#000" stroke-width="1.3"/>
<line x1="467.46" y1="325.50" x2="467.46" y2="335.50" stroke="#000" stroke-width="1.2"/>
<line x1="464.16" y1="325.50" x2="470.76" y2="325.50" stroke="#000" stroke-width="1.3"/>
<line x1="464.16" y1="335.50" x2="470.76" y2="335.50" stroke="#000" stroke-width="1.3"/>
<line x1="480.01" y1="326.00" x2="480.01" y2="336.00" stroke="#000" stroke-width="1.2"/>
<line x1="476.71" y1="326.00" x2="483.31" y2="326.00" stroke="#000" stroke-width="1.3"/>
<line x1="476.71" y1="336.00" x2="483.31" y2="336.00" stroke="#000" stroke-width="1.3"/>
<line x1="492.56" y1="321.00" x2="492.56" y2="337.00" stroke="#000" stroke-width="1.2"/>
<line x1="489.26" y1="321.00" x2="495.86" y2="321.00" stroke="#000" stroke-width="1.3"/>
<line x1="489.26" y1="337.00" x2="495.86" y2="337.00" stroke="#000" stroke-width="1.3"/>
<line x1="505.11" y1="325.00" x2="505.11" y2="337.00" stroke="#000" stroke-width="1.2"/>
<line x1="501.81" y1="325.00" x2="508.41" y2="325.00" stroke="#000" stroke-width="1.3"/>
<line x1="501.81" y1="337.00" x2="508.41" y2="337.00" stroke="#000" stroke-width="1.3"/>
<line x1="392.15" y1="333.00" x2="392.15" y2="340.00" stroke="#000" stroke-width="1.2"/>
<line x1="388.85" y1="333.00" x2="395.45" y2="333.00" stroke="#000" stroke-width="1.3"/>
<line x1="388.85" y1="340.00" x2="395.45" y2="340.00" stroke="#000" stroke-width="1.3"/>
<line x1="404.71" y1="333.00" x2="404.71" y2="341.00" stroke="#000" stroke-width="1.2"/>
<line x1="401.41" y1="333.00" x2="408.01" y2="333.00" stroke="#000" stroke-width="1.3"/>
<line x1="401.41" y1="341.00" x2="408.01" y2="341.00" stroke="#000" stroke-width="1.3"/>
<line x1="417.26" y1="332.00" x2="417.26" y2="340.00" stroke="#000" stroke-width="1.2"/>
<line x1="413.96" y1="332.00" x2="420.56" y2="332.00" stroke="#000" stroke-width="1.3"/>
<line x1="413.96" y1="340.00" x2="420.56" y2="340.00" stroke="#000" stroke-width="1.3"/>
<line x1="429.81" y1="330.50" x2="429.81" y2="338.50" stroke="#000" stroke-width="1.2"/>
<line x1="426.51" y1="330.50" x2="433.11" y2="330.50" stroke="#000" stroke-width="1.3"/>
<line x1="426.51" y1="338.50" x2="433.11" y2="338.50" stroke="#000" stroke-width="1.3"/>
<line x1="442.36" y1="328.00" x2="442.36" y2="336.00" stroke="#000" stroke-width="1.2"/>
<line x1="439.06" y1="328.00" x2="445.66" y2="328.00" stroke="#000" stroke-width="1.3"/>
<line x1="439.06" y1="336.00" x2="445.66" y2="336.00" stroke="#000" stroke-width="1.3"/>
<line x1="454.91" y1="330.00" x2="454.91" y2="338.00" stroke="#000" stroke-width="1.2"/>
<line x1="451.61" y1="330.00" x2="458.21" y2="330.00" stroke="#000" stroke-width="1.3"/>
<line x1="451.61" y1="338.00" x2="458.21" y2="338.00" stroke="#000" stroke-width="1.3"/>
<line x1="467.46" y1="328.00" x2="467.46" y2="336.00" stroke="#000" stroke-width="1.2"/>
<line x1="464.16" y1="328.00" x2="470.76" y2="328.00" stroke="#000" stroke-width="1.3"/>
<line x1="464.16" y1="336.00" x2="470.76" y2="336.00" stroke="#000" stroke-width="1.3"/>
<line x1="480.01" y1="327.00" x2="480.01" y2="337.00" stroke="#000" stroke-width="1.2"/>
<line x1="476.71" y1="327.00" x2="483.31" y2="327.00" stroke="#000" stroke-width="1.3"/>
<line x1="476.71" y1="337.00" x2="483.31" y2="337.00" stroke="#000" stroke-width="1.3"/>
<line x1="492.56" y1="327.00" x2="492.56" y2="337.00" stroke="#000" stroke-width="1.2"/>
<line x1="489.26" y1="327.00" x2="495.86" y2="327.00" stroke="#000" stroke-width="1.3"/>
<line x1="489.26" y1="337.00" x2="495.86" y2="337.00" stroke="#000" stroke-width="1.3"/>
<line x1="505.11" y1="328.00" x2="505.11" y2="338.00" stroke="#000" stroke-width="1.2"/>
<line x1="501.81" y1="328.00" x2="508.41" y2="328.00" stroke="#000" stroke-width="1.3"/>
<line x1="501.81" y1="338.00" x2="508.41" y2="338.00" stroke="#000" stroke-width="1.3"/>
<line x1="429.81" y1="329.60" x2="429.81" y2="337.60" stroke="#000" stroke-width="1.2"/>
<line x1="426.51" y1="329.60" x2="433.11" y2="329.60" stroke="#000" stroke-width="1.3"/>
<line x1="426.51" y1="337.60" x2="433.11" y2="337.60" stroke="#000" stroke-width="1.3"/>
<line x1="442.36" y1="334.00" x2="442.36" y2="342.00" stroke="#000" stroke-width="1.2"/>
<line x1="439.06" y1="334.00" x2="445.66" y2="334.00" stroke="#000" stroke-width="1.3"/>
<line x1="439.06" y1="342.00" x2="445.66" y2="342.00" stroke="#000" stroke-width="1.3"/>
<line x1="454.91" y1="328.50" x2="454.91" y2="340.50" stroke="#000" stroke-width="1.2"/>
<line x1="451.61" y1="328.50" x2="458.21" y2="328.50" stroke="#000" stroke-width="1.3"/>
<line x1="451.61" y1="340.50" x2="458.21" y2="340.50" stroke="#000" stroke-width="1.3"/>
<line x1="467.46" y1="327.50" x2="467.46" y2="339.50" stroke="#000" stroke-width="1.2"/>
<line x1="464.16" y1="327.50" x2="470.76" y2="327.50" stroke="#000" stroke-width="1.3"/>
<line x1="464.16" y1="339.50" x2="470.76" y2="339.50" stroke="#000" stroke-width="1.3"/>
<line x1="480.01" y1="327.50" x2="480.01" y2="339.50" stroke="#000" stroke-width="1.2"/>
<line x1="476.71" y1="327.50" x2="483.31" y2="327.50" stroke="#000" stroke-width="1.3"/>
<line x1="476.71" y1="339.50" x2="483.31" y2="339.50" stroke="#000" stroke-width="1.3"/>
<line x1="492.56" y1="325.30" x2="492.56" y2="337.30" stroke="#000" stroke-width="1.2"/>
<line x1="489.26" y1="325.30" x2="495.86" y2="325.30" stroke="#000" stroke-width="1.3"/>
<line x1="489.26" y1="337.30" x2="495.86" y2="337.30" stroke="#000" stroke-width="1.3"/>
<line x1="505.11" y1="328.30" x2="505.11" y2="340.30" stroke="#000" stroke-width="1.2"/>
<line x1="501.81" y1="328.30" x2="508.41" y2="328.30" stroke="#000" stroke-width="1.3"/>
<line x1="501.81" y1="340.30" x2="508.41" y2="340.30" stroke="#000" stroke-width="1.3"/>
<rect x="326.20" y="315.10" width="6.40" height="6.40" fill="#fff"/>
<rect x="338.75" y="348.70" width="6.40" height="6.40" fill="#fff"/>
<rect x="351.30" y="347.50" width="6.40" height="6.40" fill="#fff"/>
<rect x="363.85" y="338.50" width="6.40" height="6.40" fill="#fff"/>
<rect x="376.40" y="340.30" width="6.40" height="6.40" fill="#fff"/>
<rect x="388.95" y="351.80" width="6.40" height="6.40" fill="#fff"/>
<rect x="401.51" y="351.70" width="6.40" height="6.40" fill="#fff"/>
<rect x="414.06" y="350.30" width="6.40" height="6.40" fill="#fff"/>
<rect x="426.61" y="348.50" width="6.40" height="6.40" fill="#fff"/>
<rect x="439.16" y="347.30" width="6.40" height="6.40" fill="#fff"/>
<rect x="451.71" y="343.80" width="6.40" height="6.40" fill="#fff"/>
<rect x="464.26" y="330.30" width="6.40" height="6.40" fill="#fff"/>
<rect x="476.81" y="330.80" width="6.40" height="6.40" fill="#fff"/>
<rect x="489.36" y="329.30" width="6.40" height="6.40" fill="#fff"/>
<rect x="501.91" y="331.80" width="6.40" height="6.40" fill="#fff"/>
<polyline points="329.40,318.30 341.95,351.90 354.50,350.70 367.05,341.70 379.60,343.50 392.15,355.00 404.71,354.90 417.26,353.50 429.81,351.70 442.36,350.50 454.91,347.00 467.46,333.50 480.01,334.00 492.56,332.50 505.11,335.00" fill="none" stroke="#000" stroke-width="1.5" stroke-linejoin="miter"/>
<polyline points="329.40,318.30 341.95,340.80 354.50,341.10 367.05,331.70 379.60,334.20 392.15,335.50 404.71,335.00 417.26,333.50 429.81,330.00 442.36,328.50 454.91,331.00 467.46,330.50 480.01,331.00 492.56,329.00 505.11,331.00" fill="none" stroke="#000" stroke-width="1.5" stroke-linejoin="miter"/>
<polyline points="329.40,318.30 341.95,345.50 354.50,337.20 367.05,336.40 379.60,334.80 392.15,336.50 404.71,337.00 417.26,336.00 429.81,334.50 442.36,332.00 454.91,334.00 467.46,332.00 480.01,332.00 492.56,332.00 505.11,333.00" fill="none" stroke="#000" stroke-width="1.5" stroke-linejoin="miter"/>
<polyline points="329.40,318.30 341.95,351.60 354.50,333.30 367.05,324.30 379.60,331.10 392.15,337.50 404.71,349.30 417.26,340.00 429.81,333.60 442.36,338.00 454.91,334.50 467.46,333.50 480.01,333.50 492.56,331.30 505.11,334.30" fill="none" stroke="#000" stroke-width="1.5" stroke-linejoin="miter"/>
<rect x="326.20" y="315.10" width="6.40" height="6.40" fill="none" stroke="#000" stroke-width="1.3"/>
<rect x="338.75" y="348.70" width="6.40" height="6.40" fill="none" stroke="#000" stroke-width="1.3"/>
<rect x="351.30" y="347.50" width="6.40" height="6.40" fill="none" stroke="#000" stroke-width="1.3"/>
<rect x="363.85" y="338.50" width="6.40" height="6.40" fill="none" stroke="#000" stroke-width="1.3"/>
<rect x="376.40" y="340.30" width="6.40" height="6.40" fill="none" stroke="#000" stroke-width="1.3"/>
<rect x="388.95" y="351.80" width="6.40" height="6.40" fill="none" stroke="#000" stroke-width="1.3"/>
<rect x="401.51" y="351.70" width="6.40" height="6.40" fill="none" stroke="#000" stroke-width="1.3"/>
<rect x="414.06" y="350.30" width="6.40" height="6.40" fill="none" stroke="#000" stroke-width="1.3"/>
<rect x="426.61" y="348.50" width="6.40" height="6.40" fill="none" stroke="#000" stroke-width="1.3"/>
<rect x="439.16" y="347.30" width="6.40" height="6.40" fill="none" stroke="#000" stroke-width="1.3"/>
<rect x="451.71" y="343.80" width="6.40" height="6.40" fill="none" stroke="#000" stroke-width="1.3"/>
<rect x="464.26" y="330.30" width="6.40" height="6.40" fill="none" stroke="#000" stroke-width="1.3"/>
<rect x="476.81" y="330.80" width="6.40" height="6.40" fill="none" stroke="#000" stroke-width="1.3"/>
<rect x="489.36" y="329.30" width="6.40" height="6.40" fill="none" stroke="#000" stroke-width="1.3"/>
<rect x="501.91" y="331.80" width="6.40" height="6.40" fill="none" stroke="#000" stroke-width="1.3"/>
<circle cx="329.40" cy="318.30" r="3.30" fill="none" stroke="#000" stroke-width="1.2"/>
<circle cx="341.95" cy="340.80" r="3.30" fill="none" stroke="#000" stroke-width="1.2"/>
<circle cx="354.50" cy="341.10" r="3.30" fill="none" stroke="#000" stroke-width="1.2"/>
<circle cx="367.05" cy="331.70" r="3.30" fill="none" stroke="#000" stroke-width="1.2"/>
<circle cx="379.60" cy="334.20" r="3.30" fill="none" stroke="#000" stroke-width="1.2"/>
<circle cx="392.15" cy="335.50" r="3.30" fill="none" stroke="#000" stroke-width="1.2"/>
<circle cx="404.71" cy="335.00" r="3.30" fill="none" stroke="#000" stroke-width="1.2"/>
<circle cx="417.26" cy="333.50" r="3.30" fill="none" stroke="#000" stroke-width="1.2"/>
<circle cx="429.81" cy="330.00" r="3.30" fill="none" stroke="#000" stroke-width="1.2"/>
<circle cx="442.36" cy="328.50" r="3.30" fill="none" stroke="#000" stroke-width="1.2"/>
<circle cx="454.91" cy="331.00" r="3.30" fill="none" stroke="#000" stroke-width="1.2"/>
<circle cx="467.46" cy="330.50" r="3.30" fill="none" stroke="#000" stroke-width="1.2"/>
<circle cx="480.01" cy="331.00" r="3.30" fill="none" stroke="#000" stroke-width="1.2"/>
<circle cx="492.56" cy="329.00" r="3.30" fill="none" stroke="#000" stroke-width="1.2"/>
<circle cx="505.11" cy="331.00" r="3.30" fill="none" stroke="#000" stroke-width="1.2"/>
<polygon points="329.40,314.46 333.10,320.86 325.70,320.86" fill="#000"/>
<polygon points="341.95,341.66 345.65,348.06 338.25,348.06" fill="#000"/>
<polygon points="354.50,333.36 358.20,339.76 350.80,339.76" fill="#000"/>
<polygon points="367.05,332.56 370.75,338.96 363.35,338.96" fill="#000"/>
<polygon points="379.60,330.96 383.30,337.36 375.90,337.36" fill="#000"/>
<polygon points="392.15,332.66 395.85,339.06 388.45,339.06" fill="#000"/>
<polygon points="404.71,333.16 408.41,339.56 401.01,339.56" fill="#000"/>
<polygon points="417.26,332.16 420.96,338.56 413.56,338.56" fill="#000"/>
<polygon points="429.81,330.66 433.51,337.06 426.11,337.06" fill="#000"/>
<polygon points="442.36,328.16 446.06,334.56 438.66,334.56" fill="#000"/>
<polygon points="454.91,330.16 458.61,336.56 451.21,336.56" fill="#000"/>
<polygon points="467.46,328.16 471.16,334.56 463.76,334.56" fill="#000"/>
<polygon points="480.01,328.16 483.71,334.56 476.31,334.56" fill="#000"/>
<polygon points="492.56,328.16 496.26,334.56 488.86,334.56" fill="#000"/>
<polygon points="505.11,329.16 508.81,335.56 501.41,335.56" fill="#000"/>
<circle cx="329.40" cy="318.30" r="3.70" fill="#000"/>
<circle cx="341.95" cy="351.60" r="3.70" fill="#000"/>
<circle cx="354.50" cy="333.30" r="3.70" fill="#000"/>
<circle cx="367.05" cy="324.30" r="3.70" fill="#000"/>
<circle cx="379.60" cy="331.10" r="3.70" fill="#000"/>
<circle cx="392.15" cy="337.50" r="3.70" fill="#000"/>
<circle cx="404.71" cy="349.30" r="3.70" fill="#000"/>
<circle cx="417.26" cy="340.00" r="3.70" fill="#000"/>
<circle cx="429.81" cy="333.60" r="3.70" fill="#000"/>
<circle cx="442.36" cy="338.00" r="3.70" fill="#000"/>
<circle cx="454.91" cy="334.50" r="3.70" fill="#000"/>
<circle cx="467.46" cy="333.50" r="3.70" fill="#000"/>
<circle cx="480.01" cy="333.50" r="3.70" fill="#000"/>
<circle cx="492.56" cy="331.30" r="3.70" fill="#000"/>
<circle cx="505.11" cy="334.30" r="3.70" fill="#000"/>
<line x1="285.10" y1="450.30" x2="296.70" y2="450.30" stroke="#000" stroke-width="1.3"/>
<polygon points="290.90,446.46 294.60,452.86 287.20,452.86" fill="#000"/>
<text x="306.20" y="454.10" font-size="11.95" text-anchor="start" >TCD BM</text>
<rect x="289.54" y="465.24" width="6.72" height="6.72" fill="#fff" stroke="#000" stroke-width="1.3"/>
<line x1="287.70" y1="468.60" x2="298.70" y2="468.60" stroke="#000" stroke-width="1.3"/>
<text x="302.90" y="470.70" font-size="11.95" text-anchor="start" >TCD BM + Naive CD8<tspan dy="-5.2" font-size="7.8" font-weight="bold">+</tspan><tspan dy="5.2"> </tspan>T (0.5 million)</text>
<line x1="287.30" y1="483.30" x2="297.30" y2="483.30" stroke="#000" stroke-width="1.3"/>
<circle cx="292.70" cy="483.30" r="3.30" fill="none" stroke="#000" stroke-width="1.2"/>
<text x="301.30" y="487.10" font-size="11.95" text-anchor="start" >TCD BM + Memory CD8<tspan dy="-5.2" font-size="7.8" font-weight="bold">+</tspan><tspan dy="5.2"> </tspan>T (0.5 million)</text>
<line x1="287.30" y1="499.50" x2="298.70" y2="499.50" stroke="#000" stroke-width="1.3"/>
<circle cx="293.10" cy="499.50" r="3.70" fill="#000"/>
<text x="306.50" y="505.50" font-size="11.95" text-anchor="start" >TCD BM + Total  CD8<tspan dy="-5.2" font-size="7.8" font-weight="bold">+</tspan><tspan dy="5.2"> </tspan>T (0.5 million)</text>
</svg>
</body></html>
